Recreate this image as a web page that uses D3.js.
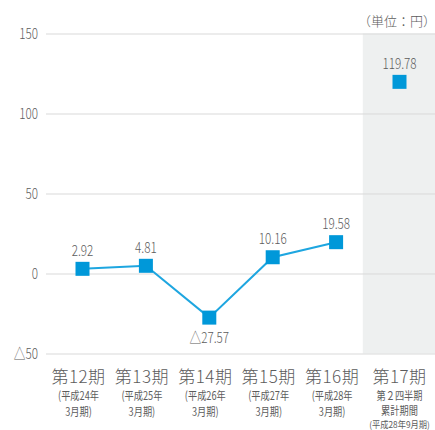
<!DOCTYPE html>
<html><head><meta charset="utf-8">
<script src="https://cdn.jsdelivr.net/npm/d3@7/dist/d3.min.js"></script>
<style>body{margin:0;background:#fff}svg{display:block}</style>
</head><body>
<svg id="c" width="435" height="430"></svg>
<script>
const categories = ["第12期","第13期","第14期","第15期","第16期","第17期"];
const subLabels = [
  ["(平成24年","3月期)"],
  ["(平成25年","3月期)"],
  ["(平成26年","3月期)"],
  ["(平成27年","3月期)"],
  ["(平成28年","3月期)"],
  ["第２四半期","累計期間","(平成28年9月期)"]
];
const values = [2.92, 4.81, -27.57, 10.16, 19.58, 119.78];
const valueLabels = ["2.92","4.81","△27.57","10.16","19.58","119.78"];
const yTicks = [150, 100, 50, 0, -50];
const yTickLabels = ["150","100","50","0","△50"];
const unitLabel = "（単位：円）";

const svg = d3.select("#c");
const FONT = "'Noto Sans CJK JP','Noto Sans',sans-serif";
const TXT = "#5c5c5c";
const x = d3.scalePoint().domain(categories).range([82.5, 399.5]);
const y = d3.scaleLinear().domain([-50, 150]).range([353.5, 33.5]);
const step = x.step();

// shaded band for last period
const bandX = x(categories[5]) - step/2 - 5;
svg.append("rect")
  .attr("x", bandX).attr("y", y(150))
  .attr("width", 435 - bandX).attr("height", y(-50) - y(150))
  .attr("fill", "#eef0f0");

// gridlines
const yAxis = d3.axisLeft(y).tickValues(yTicks).tickSize(-(435 - 46)).tickFormat((d,i) => yTickLabels[i]);
const ga = svg.append("g").attr("transform", "translate(46,0)").call(yAxis);
ga.select(".domain").remove();
ga.selectAll(".tick line").attr("stroke", "#d9d9d9").attr("stroke-width", 1);
ga.selectAll(".tick text").each(function(){
  d3.select(this).attr("x", null).attr("dy", null)
   .attr("transform", `translate(-8,5) scale(0.78,1)`)
   .attr("text-anchor", "end")
   .attr("fill", TXT).attr("font-size", 15).attr("font-family", FONT).attr("font-weight", 300);
});

// unit label
svg.append("text").text(unitLabel)
  .attr("x", 436).attr("y", 26).attr("text-anchor", "end")
  .attr("fill", TXT).attr("font-size", 13).attr("font-family", FONT).attr("font-weight", 300);

// line for first five
const lineData = values.slice(0, 5).map((v, i) => ({c: categories[i], v}));
svg.append("path").datum(lineData)
  .attr("d", d3.line().x(d => x(d.c)).y(d => y(d.v)))
  .attr("fill", "none").attr("stroke", "#1ea6e0").attr("stroke-width", 2);

// markers
const ms = 14;
svg.selectAll("rect.m").data(values).join("rect").attr("class","m")
  .attr("x", (d,i) => x(categories[i]) - ms/2).attr("y", d => y(d) - ms/2)
  .attr("width", ms).attr("height", ms).attr("fill", "#0098d9");

// value labels
svg.selectAll("text.v").data(values).join("text").attr("class","v")
  .attr("transform", (d,i) => `translate(${x(categories[i])},${d < 0 ? y(d) + ms/2 + 18 : y(d) - ms/2 - 6}) scale(0.78,1)`)
  .attr("text-anchor", "middle")
  .attr("fill", TXT).attr("font-size", 15).attr("font-family", FONT).attr("font-weight", 300)
  .text((d,i) => valueLabels[i]);

// category labels
const cg = svg.selectAll("g.cat").data(categories).join("g").attr("class","cat")
  .attr("transform", (d,i) => `translate(${x(d) - (i < 5 ? 4 : 0)},0)`);
cg.append("text").text(d => d)
  .attr("y", (d,i) => i < 5 ? 383 : 382.5).attr("text-anchor", "middle")
  .attr("fill", TXT).attr("font-size", 17).attr("font-family", FONT).attr("font-weight", 300)
  .attr("letter-spacing", 0.5);
cg.each(function(d, i){
  const g = d3.select(this);
  const last = subLabels[i].length === 3;
  subLabels[i].forEach((s, j) => {
    const small = j === 2;
    const yy = last ? [399.5, 415, 428][j] : 400 + j*15.5;
    g.append("text").text(s)
      .attr("transform", `translate(0,${yy}) scale(${small ? 0.92 : 0.8},1)`)
      .attr("text-anchor", "middle")
      .attr("fill", TXT).attr("font-size", small ? 9 : 11.5).attr("font-family", FONT).attr("font-weight", 400);
  });
});
</script>
</body></html>
